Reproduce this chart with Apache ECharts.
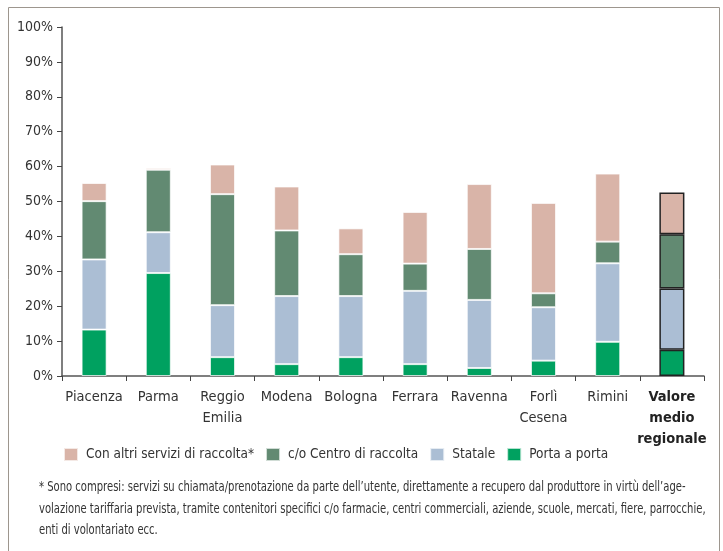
<!DOCTYPE html>
<html lang="it">
<head>
<meta charset="UTF-8">
<title>Raccolta</title>
<style>
  html, body { margin: 0; padding: 0; background: #fff; }
  #chart { width: 723px; height: 551px; }
</style>
</head>
<body>
<div id="chart"></div>
<script src="https://cdn.jsdelivr.net/npm/echarts@6/dist/echarts.min.js"></script>
<script type="text/javascript">
    // categorie (province + media regionale)
    var province = ['Piacenza', 'Parma', 'Reggio\nEmilia', 'Modena', 'Bologna', 'Ferrara', 'Ravenna', 'Forlì\nCesena', 'Rimini', 'Valore\nmedio\nregionale'];

    // quote in %
    var portaAPorta  = [13.3, 29.5,  5.4,  3.4,  5.4,  3.4,  2.3,  4.4,  9.8,  7.5];
    var statale      = [20.1, 11.7, 14.9, 19.5, 17.5, 21.0, 19.5, 15.3, 22.5, 17.6];
    var centroRacc   = [16.7, 17.9, 31.8, 18.8, 12.0,  7.8, 14.6,  4.0,  6.2, 15.5];
    var altriServizi = [ 5.2,  0.5,  8.5, 12.6,  7.4, 14.8, 18.6, 25.9, 19.5, 12.0];

    var nomiSerie = ['Porta a porta', 'Statale', 'c/o Centro di raccolta', 'Con altri servizi di raccolta*'];
    var colori = ['#00a160', '#abbed4', '#628a72', '#d9b4a8'];

    var nota = [
        '* Sono compresi: servizi su chiamata/prenotazione da parte dell\u2019utente, direttamente a recupero dal produttore in virtù dell\u2019age-',
        'volazione tariffaria prevista, tramite contenitori specifici c/o farmacie, centri commerciali, aziende, scuole, mercati, fiere, parrocchie,',
        'enti di volontariato ecc.'
    ];

    var font = '"DejaVu Sans Condensed", "Liberation Sans Narrow", sans-serif';

    function dati(valori) {
        // l'ultima barra (media regionale) ha il bordo nero
        return valori.map(function (v, i) {
            if (i === valori.length - 1) {
                return { value: v, itemStyle: { borderColor: '#222', borderWidth: 1.5 } };
            }
            return v;
        });
    }

    var serie = [portaAPorta, statale, centroRacc, altriServizi].map(function (valori, k) {
        return {
            name: nomiSerie[k],
            type: 'bar',
            stack: 'tot',
            barWidth: '39%',
            itemStyle: { color: colori[k], borderColor: 'rgba(255,255,255,0.7)', borderWidth: 1 },
            data: dati(valori)
        };
    });

    var categorie = province.map(function (p, i) {
        if (i === province.length - 1) {
            return { value: p, textStyle: { fontWeight: 'bold', color: '#222' } };
        }
        return p;
    });

    var chart = echarts.init(document.getElementById('chart'));
    var option = {
        animation: false,
        textStyle: { fontFamily: font },
        grid: { left: 62, right: 19, top: 27, bottom: 175, containLabel: false },
        legend: {
            data: ['Con altri servizi di raccolta*', 'c/o Centro di raccolta', 'Statale', 'Porta a porta'],
            left: 58,
            top: 442,
            itemWidth: 14,
            itemHeight: 13,
            itemGap: 11,
            icon: 'rect',
            textStyle: { fontFamily: font, fontSize: 13.5, color: '#333', padding: [0, 0, 0, 3] }
        },
        xAxis: {
            type: 'category',
            data: categorie,
            axisLine: { lineStyle: { color: '#555', width: 1.5 } },
            axisTick: { show: true, length: 5, lineStyle: { color: '#444' } },
            axisLabel: { fontFamily: font, fontSize: 14.5, color: '#333', lineHeight: 21, margin: 11, interval: 0 }
        },
        yAxis: {
            type: 'value',
            min: 0,
            max: 100,
            interval: 10,
            axisLine: { show: true, lineStyle: { color: '#555', width: 1.5 } },
            axisTick: { show: true, length: 5, lineStyle: { color: '#444' } },
            splitLine: { show: false },
            axisLabel: { fontFamily: font, fontSize: 14, color: '#333', margin: 9, formatter: '{value}%' }
        },
        graphic: [
            {
                type: 'rect',
                shape: { x: 8.5, y: 7.5, width: 711, height: 560 },
                style: { fill: 'none', stroke: '#9d968e', lineWidth: 1 },
                silent: true
            },
            {
                // nota a piè di grafico, carattere stretto come nell'originale
                type: 'text',
                x: 39,
                y: 477,
                scaleX: 0.825,
                style: { text: nota.join('\n'), fontFamily: font, fontSize: 13.5, lineHeight: 21.5, fill: '#333' }
            }
        ],
        series: serie
    };
    chart.setOption(option);
</script>
</body>
</html>
